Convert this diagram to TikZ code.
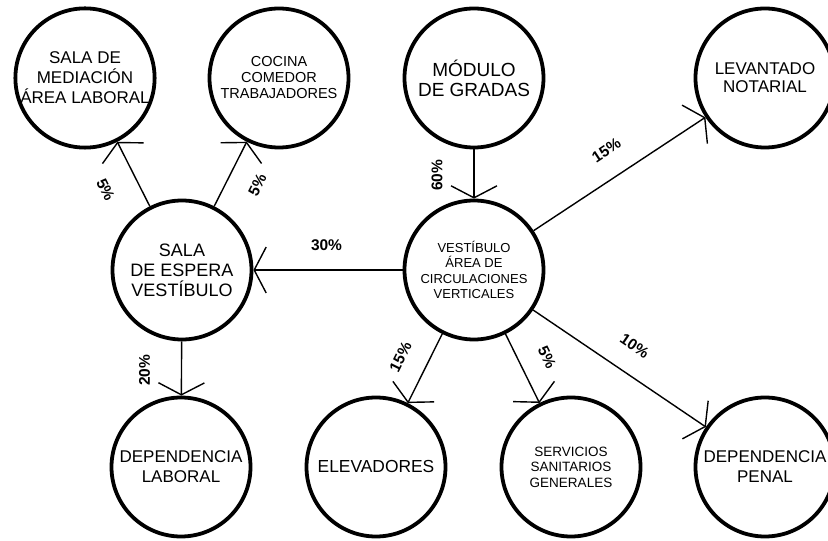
\documentclass[tikz,border=0pt]{standalone}
\usepackage{fontspec}
\setmainfont{Liberation Sans}
\usepackage{tikz}
\usetikzlibrary{arrows.meta,positioning}

\begin{document}
\begin{tikzpicture}[x=1pt,y=1pt,
    espacio/.style={circle,draw,line width=3.8pt,minimum size=139pt,inner sep=0pt,align=center},
    flujo/.style={-{Straight Barb[length=12pt,width=46pt]},line width=1.4pt},
    pct/.style={font=\bfseries\fontsize{15.5}{15.5}\selectfont,inner sep=1pt}]
  \useasboundingbox (0,0) rectangle (828,541);
  % upper row
  \node[espacio,font=\fontsize{17}{20}\selectfont] (mediacion) at (85,463) {SALA DE\\MEDIACIÓN\\ÁREA LABORAL};
  \node[espacio,font=\fontsize{14.5}{16}\selectfont] (cocina) at (279,463) {COCINA\\COMEDOR\\TRABAJADORES};
  \node[espacio,font=\fontsize{19}{20}\selectfont] (gradas) at (474,463) {MÓDULO\\DE GRADAS};
  \node[espacio,font=\fontsize{17}{18}\selectfont] (notarial) at (765,463) {LEVANTADO\\NOTARIAL};
  % middle row
  \node[espacio,font=\fontsize{18}{20}\selectfont] (espera) at (182,271) {SALA\\DE ESPERA\\VESTÍBULO};
  \node[espacio,font=\fontsize{13}{15.3}\selectfont] (vestibulo) at (474,271) {VESTÍBULO\\ÁREA DE\\CIRCULACIONES\\VERTICALES};
  % lower row
  \node[espacio,font=\fontsize{17}{20}\selectfont] (laboral) at (181,74) {DEPENDENCIA\\LABORAL};
  \node[espacio,font=\fontsize{17.4}{20}\selectfont] (elevadores) at (376,74) {ELEVADORES};
  \node[espacio,font=\fontsize{13.5}{15.5}\selectfont] (sanitarios) at (571,74) {SERVICIOS\\SANITARIOS\\GENERALES};
  \node[espacio,font=\fontsize{17}{20}\selectfont] (penal) at (765,74) {DEPENDENCIA\\PENAL};
  % flows from the waiting hall
  \draw[flujo] (espera) -- (mediacion) node[pct,sloped,pos=0.48,yshift=-32pt]{5\%};
  \draw[flujo] (espera) -- (cocina) node[pct,sloped,pos=0.53,yshift=-29pt]{5\%};
  \draw[flujo] (espera) -- (laboral) node[pct,pos=0.53,xshift=-37pt,rotate=90]{20\%};
  % flows through the vertical circulation
  \draw[flujo] (gradas) -- (vestibulo) node[pct,pos=0.53,xshift=-37pt,rotate=90]{60\%};
  \draw[flujo] (vestibulo) -- (espera) node[pct,pos=0.51,yshift=25pt]{30\%};
  \foreach \dst/\val/\p in {notarial/15/0.51, elevadores/15/0.51, sanitarios/5/0.51, penal/10/0.5}
    \draw[flujo] (vestibulo) -- (\dst) node[pct,sloped,pos=\p,yshift=27pt]{\val\%};
\end{tikzpicture}
\end{document}
